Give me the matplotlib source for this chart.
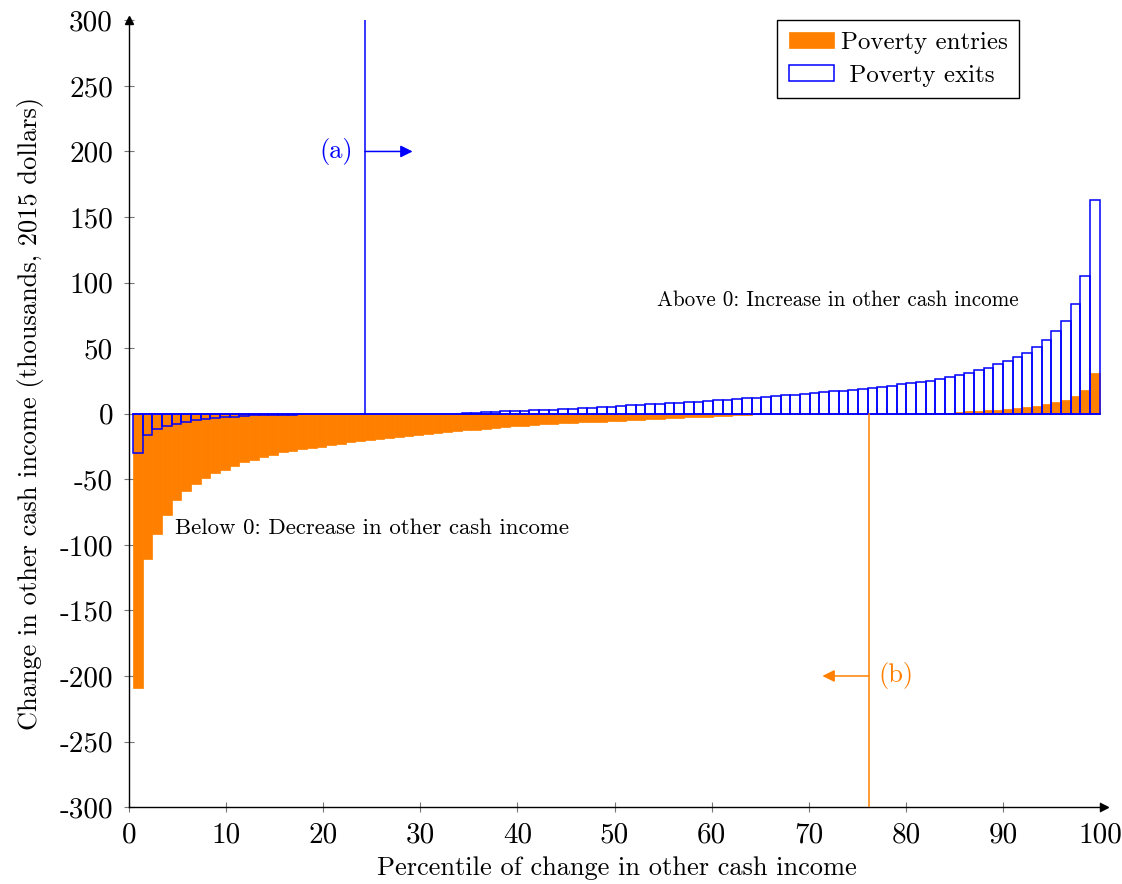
import numpy as np
import matplotlib.pyplot as plt

# values, one per percentile (1..100), thousands of 2015 dollars
entries = [-209, -111, -91.5, -77, -66, -59.2, -53.6, -49, -45.2, -42.7,
           -39.6, -37.1, -35.1, -33.0, -31.3, -29.5, -28.2, -27.2, -26.5, -25.4,
           -23.9, -22.9, -21.8, -20.8, -19.8, -19.0, -18.3, -17.5, -16.8, -16.2,
           -15.2, -14.7, -14.0, -13.2, -12.7, -12.2, -11.4, -10.8, -10.1, -9.6,
           -9.1, -8.6, -8.2, -7.8, -7.4, -7.0, -6.7, -6.4, -6.1, -5.7,
           -5.3, -4.9, -4.6, -4.2, -3.8, -3.4, -3.1, -2.8, -2.5, -2.2,
           -1.9, -1.6, -1.3, -1.0, -0.6, -0.3, 0, 0, 0, 0,
           0, 0, 0, 0, 0, 0, 0, 0, 0, 0,
           0, 0, 0.2, 0.5, 0.8, 1.3, 1.8, 2.0, 2.5, 2.8,
           3.6, 4.1, 5.1, 6.1, 7.6, 9.1, 10.7, 13.5, 17.8, 31.0]

exits = [-30.2, -16.2, -11.9, -9.4, -7.9, -6.6, -5.1, -4.0, -3.3, -2.5,
         -2.3, -1.5, -1.0, -1.0, -0.8, -0.8, -0.7, -0.5, -0.5, -0.4,
         -0.3, -0.3, -0.2, -0.2, -0.1, 0, 0, 0, 0, 0,
         0, 0, 0, 0, 0.3, 0.7, 1.0, 1.3, 1.7, 1.9,
         2.1, 2.5, 2.8, 3.0, 3.3, 3.8, 4.1, 4.5, 4.9, 5.4,
         5.8, 6.4, 6.7, 7.2, 7.6, 7.9, 8.4, 8.8, 9.3, 9.7,
         10.3, 10.8, 11.2, 11.7, 12.2, 12.7, 13.4, 14.0, 14.5, 15.2,
         15.8, 16.3, 17.0, 17.5, 18.3, 18.8, 19.6, 20.4, 21.3, 22.3,
         23.4, 24.4, 25.3, 26.5, 28.0, 29.8, 31.1, 33.1, 35.2, 37.7,
         40.4, 43.3, 46.3, 51, 56, 63, 71, 83.5, 105, 163]

xticks = list(range(0, 101, 10))
yticks = list(range(-300, 301, 50))
line_a = 24.3
line_b = 76.2

orange = '#ff8000'
blue = '#0000ff'

plt.rcParams['font.family'] = ['cmr10', 'DejaVu Serif']
plt.rcParams['axes.unicode_minus'] = False
plt.rcParams['mathtext.fontset'] = 'cm'

fig = plt.figure(figsize=(11.22, 8.84), dpi=100)
ax = fig.add_axes([0.115, 0.087, 0.869, 0.890])

x = np.linspace(0.9, 99.45, len(entries))
ax.bar(x, entries, width=0.995, color=orange, edgecolor=orange, linewidth=0.5,
       label='Poverty entries', zorder=2)
ax.bar(x, exits, width=0.995, facecolor='none', edgecolor=blue, linewidth=1.1,
       label=' Poverty exits', zorder=3)
# base edge of the outlined bars (zero-height ones included)
ax.plot([x[0] - 0.5, x[-1] + 0.5], [0, 0], color=blue, lw=1.1, zorder=3)

# marker lines
ax.plot([line_a, line_a], [0, 300], color=blue, lw=1.1, zorder=4)
ax.annotate('', xy=(line_a + 4.9, 200), xytext=(line_a, 200),
            arrowprops=dict(arrowstyle='-|>', color=blue, lw=1.1,
                            mutation_scale=18, shrinkA=0, shrinkB=0))
ax.text(line_a - 1.2, 200, '(a)', color=blue, fontsize=19, ha='right', va='center')

ax.plot([line_b, line_b], [0, -300], color=orange, lw=1.1, zorder=4)
ax.annotate('', xy=(line_b - 4.8, -200), xytext=(line_b, -200),
            arrowprops=dict(arrowstyle='-|>', color=orange, lw=1.1,
                            mutation_scale=18, shrinkA=0, shrinkB=0))
ax.text(line_b + 1.0, -200, '(b)', color=orange, fontsize=19, ha='left', va='center')

ax.text(91.6, 86.5, 'Above 0: Increase in other cash income', fontsize=15.2,
        ha='right', va='center')
ax.text(4.7, -87.3, 'Below 0: Decrease in other cash income', fontsize=16.4,
        ha='left', va='center')

ax.set_xlim(0, 100.4)
ax.set_ylim(-300, 300)
ax.set_xticks(xticks)
ax.set_yticks(yticks)
ax.tick_params(direction='inout', length=7, width=0.8, color='#777777',
               labelsize=21)
ax.tick_params(axis='y', pad=8)
ax.tick_params(axis='x', pad=7)

for s in ['top', 'right']:
    ax.spines[s].set_visible(False)
for s in ['left', 'bottom']:
    ax.spines[s].set_linewidth(1.0)

# axis arrows
ax.plot(1, 0, '>k', ms=6, transform=ax.transAxes, clip_on=False)
ax.plot(0, 1, '^k', ms=6, transform=ax.transAxes, clip_on=False)

ax.set_xlabel('Percentile of change in other cash income', fontsize=19, labelpad=6)
ax.set_ylabel('Change in other cash income (thousands, 2015 dollars)', fontsize=19,
              labelpad=11)

leg = ax.legend(loc='upper right', bbox_to_anchor=(0.913, 1.0), fontsize=18,
                fancybox=False, edgecolor='black', framealpha=1,
                handlelength=1.8, handleheight=0.6, borderpad=0.45,
                labelspacing=0.45, handletextpad=0.3, borderaxespad=0)
leg.get_frame().set_linewidth(1.0)

fig.savefig('out.png', dpi=100)
